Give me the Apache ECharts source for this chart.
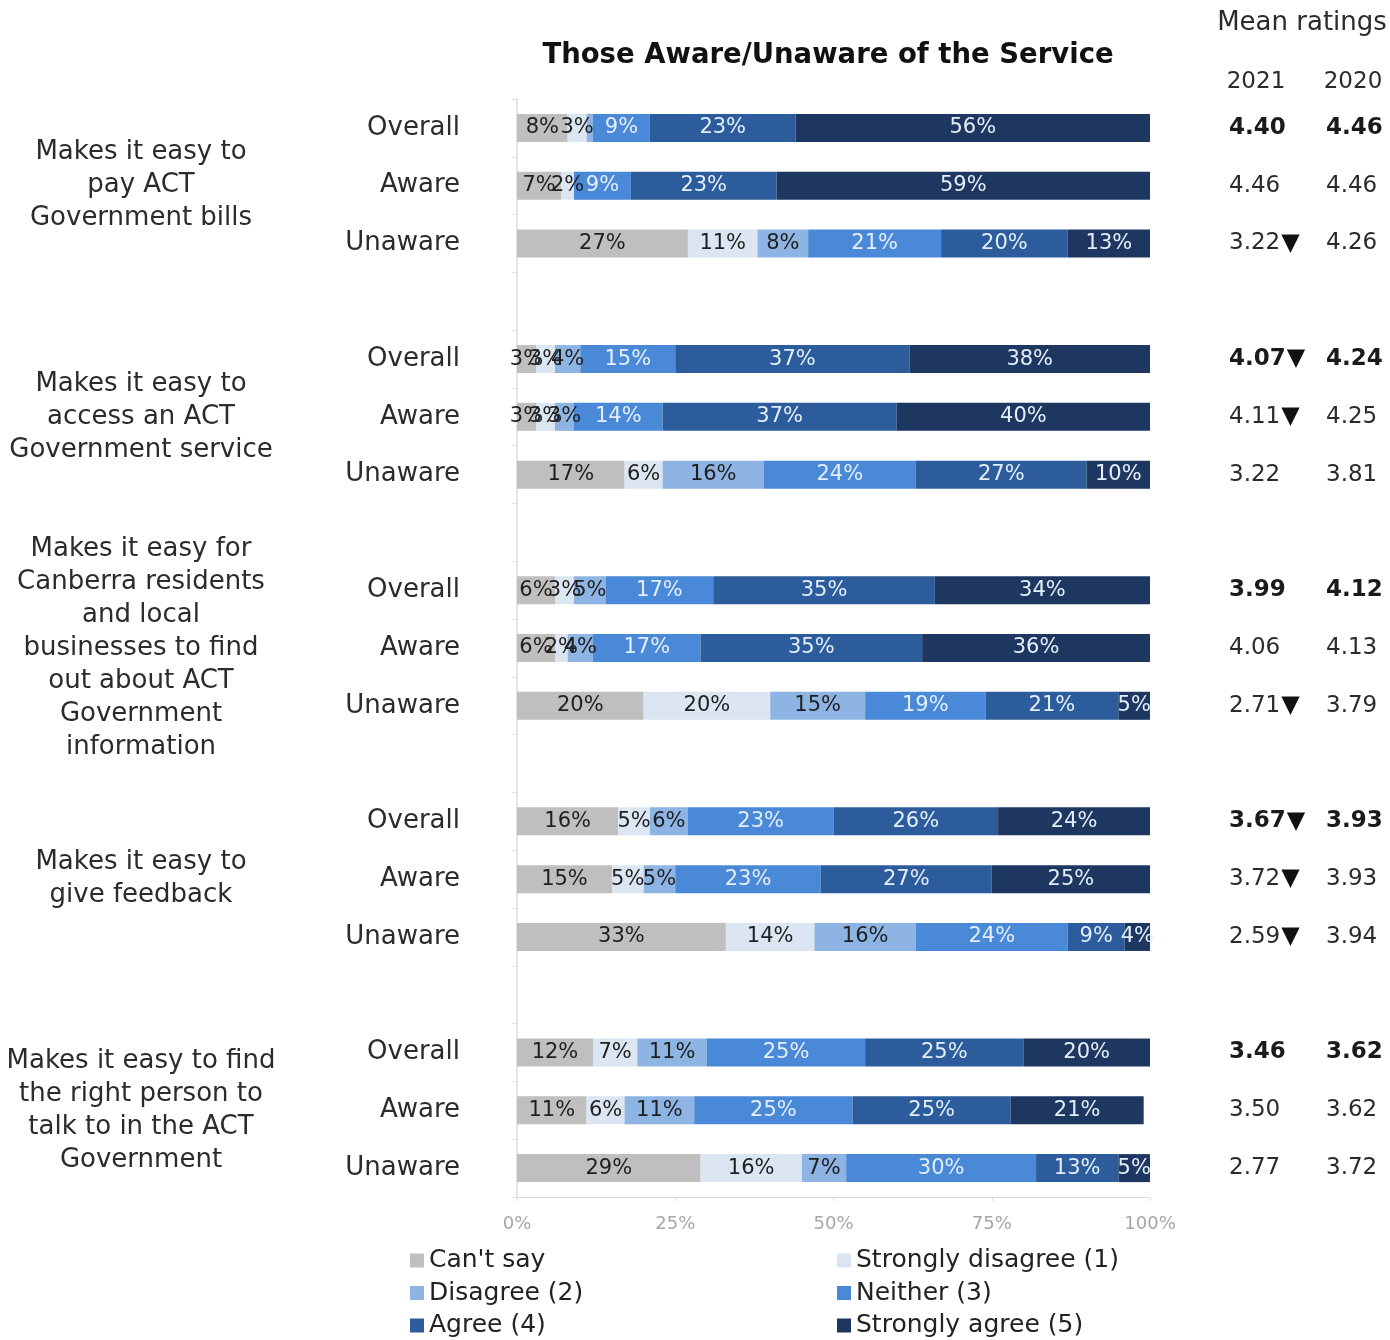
<!DOCTYPE html>
<html>
<head>
<meta charset="utf-8">
<script src="https://cdn.jsdelivr.net/npm/echarts@6/dist/echarts.min.js"></script>
<style>
  html, body { margin: 0; padding: 0; background: #ffffff; }
  #chart { width: 1390px; height: 1340px; }
</style>
</head>
<body>
<div id="chart"></div>
<script>
// Statements (one group of three rows each)
const statements = [
  'Makes it easy to\npay ACT\nGovernment bills',
  'Makes it easy to\naccess an ACT\nGovernment service',
  'Makes it easy for\nCanberra residents\nand local\nbusinesses to find\nout about ACT\nGovernment\ninformation',
  'Makes it easy to\ngive feedback',
  'Makes it easy to find\nthe right person to\ntalk to in the ACT\nGovernment'
];
const segments = ['Overall', 'Aware', 'Unaware'];

// Response shares (%), rows ordered Overall / Aware / Unaware per statement
const cantSay          = [8, 7, 27,   3, 3, 17,   6, 6, 20,   16, 15, 33,   12, 11, 29];
const stronglyDisagree = [3, 2, 11,   3, 3, 6,    3, 2, 20,   5, 5, 14,     7, 6, 16];
const disagree         = [1, 0, 8,    4, 3, 16,   5, 4, 15,   6, 5, 16,     11, 11, 7];
const neither          = [9, 9, 21,   15, 14, 24, 17, 17, 19, 23, 23, 24,   25, 25, 30];
const agree            = [23, 23, 20, 37, 37, 27, 35, 35, 21, 26, 27, 9,    25, 25, 13];
const stronglyAgree    = [56, 59, 13, 38, 40, 10, 34, 36, 5,  24, 25, 4,    20, 21, 5];

// Mean ratings; a flag of 1 marks a significant drop versus 2020
const mean2021 = [4.40, 4.46, 3.22, 4.07, 4.11, 3.22, 3.99, 4.06, 2.71, 3.67, 3.72, 2.59, 3.46, 3.50, 2.77];
const drop2021 = [0, 0, 1,  1, 1, 0,  0, 0, 1,  1, 1, 1,  0, 0, 0];
const mean2020 = [4.46, 4.46, 4.26, 4.24, 4.25, 3.81, 4.12, 4.13, 3.79, 3.93, 3.93, 3.94, 3.62, 3.62, 3.72];

const xTicks = [0, 25, 50, 75, 100];

const seriesNames = ["Can't say", 'Strongly disagree (1)', 'Disagree (2)', 'Neither (3)', 'Agree (4)', 'Strongly agree (5)'];
const seriesValues = [cantSay, stronglyDisagree, disagree, neither, agree, stronglyAgree];
const seriesColors = ['#bfbfbf', '#dce6f2', '#8db4e2', '#4a89d8', '#2c5c9b', '#1e3761'];
const labelColors  = ['#1f1f1f', '#1f1f1f', '#1f1f1f', '#e3eefa', '#e3eefa', '#e3eefa'];

// Build the row layout: three rows per statement, a spacer row between statements
const rows = [];
statements.forEach((s, g) => {
  segments.forEach((seg, k) => rows.push({ group: g, seg: k, idx: g * 3 + k }));
  if (g < statements.length - 1) rows.push(null);
});
const rowIds = rows.map((r, i) => 'r' + i);

const FONT = 'DejaVu Sans';

function spread(arr) {
  return rows.map(r => (r ? arr[r.idx] : '-'));
}

const chart = echarts.init(document.getElementById('chart'), null, { renderer: 'canvas' });

const baseY = {
  type: 'category',
  data: rowIds,
  inverse: true,
  gridIndex: 0,
  axisLine: { show: false },
  axisTick: { show: false },
  splitLine: { show: false }
};

const option = {
  backgroundColor: '#ffffff',
  animation: false,
  textStyle: { fontFamily: FONT },
  grid: { left: 517, right: 240, top: 99, bottom: 143, containLabel: false },
  xAxis: {
    type: 'value',
    min: 0, max: 100, interval: 25,
    axisLine: { show: true, lineStyle: { color: '#dcdcdc', width: 1 } },
    axisTick: { show: true, length: 4, lineStyle: { color: '#dcdcdc' } },
    splitLine: { show: false },
    axisLabel: {
      margin: 18,
      fontFamily: FONT, fontSize: 18, color: '#a6a6a6',
      formatter: v => (xTicks.indexOf(v) >= 0 ? v + '%' : '')
    }
  },
  yAxis: [
    {
      ...baseY,
      axisLine: { show: true, lineStyle: { color: '#dcdcdc', width: 1.5 } },
      axisTick: { show: true, length: 5, alignWithLabel: false, lineStyle: { color: '#e3e3e3' } },
      axisLabel: {
        interval: 0, margin: 57,
        fontFamily: FONT, fontSize: 26, color: '#2b2b2b',
        formatter: (v, i) => (rows[i] ? segments[rows[i].seg] : '')
      }
    },
    {
      ...baseY,
      position: 'left',
      axisLabel: {
        interval: 0, margin: 376, align: 'center', verticalAlign: 'middle',
        fontFamily: FONT, fontSize: 26, lineHeight: 33, color: '#2b2b2b',
        formatter: (v, i) => (rows[i] && rows[i].seg === 1 ? statements[rows[i].group] : '')
      }
    },
    {
      ...baseY,
      position: 'right',
      axisLabel: {
        interval: 0, margin: 79, align: 'left',
        formatter: (v, i) => {
          const r = rows[i];
          if (!r) return '';
          const t = mean2021[r.idx].toFixed(2);
          const mark = drop2021[r.idx] ? '{t|▼}' : '';
          return (r.seg === 0 ? '{b|' + t + '}' : '{n|' + t + '}') + mark;
        },
        rich: {
          b: { fontFamily: FONT, fontSize: 23, fontWeight: 'bold', color: '#1a1a1a' },
          n: { fontFamily: FONT, fontSize: 23, color: '#2b2b2b' },
          t: { fontFamily: FONT, fontSize: 24, color: '#111111', padding: [0, 0, 0, 1] }
        }
      }
    },
    {
      ...baseY,
      position: 'right',
      axisLabel: {
        interval: 0, margin: 176, align: 'left',
        formatter: (v, i) => {
          const r = rows[i];
          if (!r) return '';
          const t = mean2020[r.idx].toFixed(2);
          return r.seg === 0 ? '{b|' + t + '}' : '{n|' + t + '}';
        },
        rich: {
          b: { fontFamily: FONT, fontSize: 23, fontWeight: 'bold', color: '#1a1a1a' },
          n: { fontFamily: FONT, fontSize: 23, color: '#2b2b2b' }
        }
      }
    }
  ],
  legend: [
    {
      orient: 'vertical', left: 410, top: 1248, padding: 0,
      itemWidth: 14, itemHeight: 14, itemGap: 7.5, icon: 'rect',
      textStyle: { fontFamily: FONT, fontSize: 25, lineHeight: 25, color: '#222222' },
      data: [seriesNames[0], seriesNames[2], seriesNames[4]]
    },
    {
      orient: 'vertical', left: 837, top: 1248, padding: 0,
      itemWidth: 14, itemHeight: 14, itemGap: 7.5, icon: 'rect',
      textStyle: { fontFamily: FONT, fontSize: 25, lineHeight: 25, color: '#222222' },
      data: [seriesNames[1], seriesNames[3], seriesNames[5]]
    }
  ],
  graphic: [
    {
      type: 'text', x: 828, y: 56,
      style: {
        text: 'Those Aware/Unaware of the Service',
        textAlign: 'center', textVerticalAlign: 'middle',
        font: 'bold 27.5px "DejaVu Sans"', fill: '#111111'
      }
    },
    {
      type: 'text', x: 1302, y: 23,
      style: {
        text: 'Mean ratings', textAlign: 'center', textVerticalAlign: 'middle',
        font: '26px "DejaVu Sans"', fill: '#2b2b2b'
      }
    },
    {
      type: 'text', x: 1256, y: 82,
      style: {
        text: '2021', textAlign: 'center', textVerticalAlign: 'middle',
        font: '23px "DejaVu Sans"', fill: '#2b2b2b'
      }
    },
    {
      type: 'text', x: 1353, y: 82,
      style: {
        text: '2020', textAlign: 'center', textVerticalAlign: 'middle',
        font: '23px "DejaVu Sans"', fill: '#2b2b2b'
      }
    }
  ],
  series: seriesNames.map((name, s) => ({
    name,
    type: 'bar',
    stack: 'share',
    xAxisIndex: 0,
    yAxisIndex: 0,
    barWidth: 28,
    itemStyle: { color: seriesColors[s] },
    label: {
      show: true,
      position: 'inside',
      fontFamily: FONT,
      fontSize: 21,
      color: labelColors[s],
      formatter: p => (typeof p.value === 'number' && p.value >= 2 ? p.value + '%' : '')
    },
    data: spread(seriesValues[s])
  }))
};

chart.setOption(option);
</script>
</body>
</html>
